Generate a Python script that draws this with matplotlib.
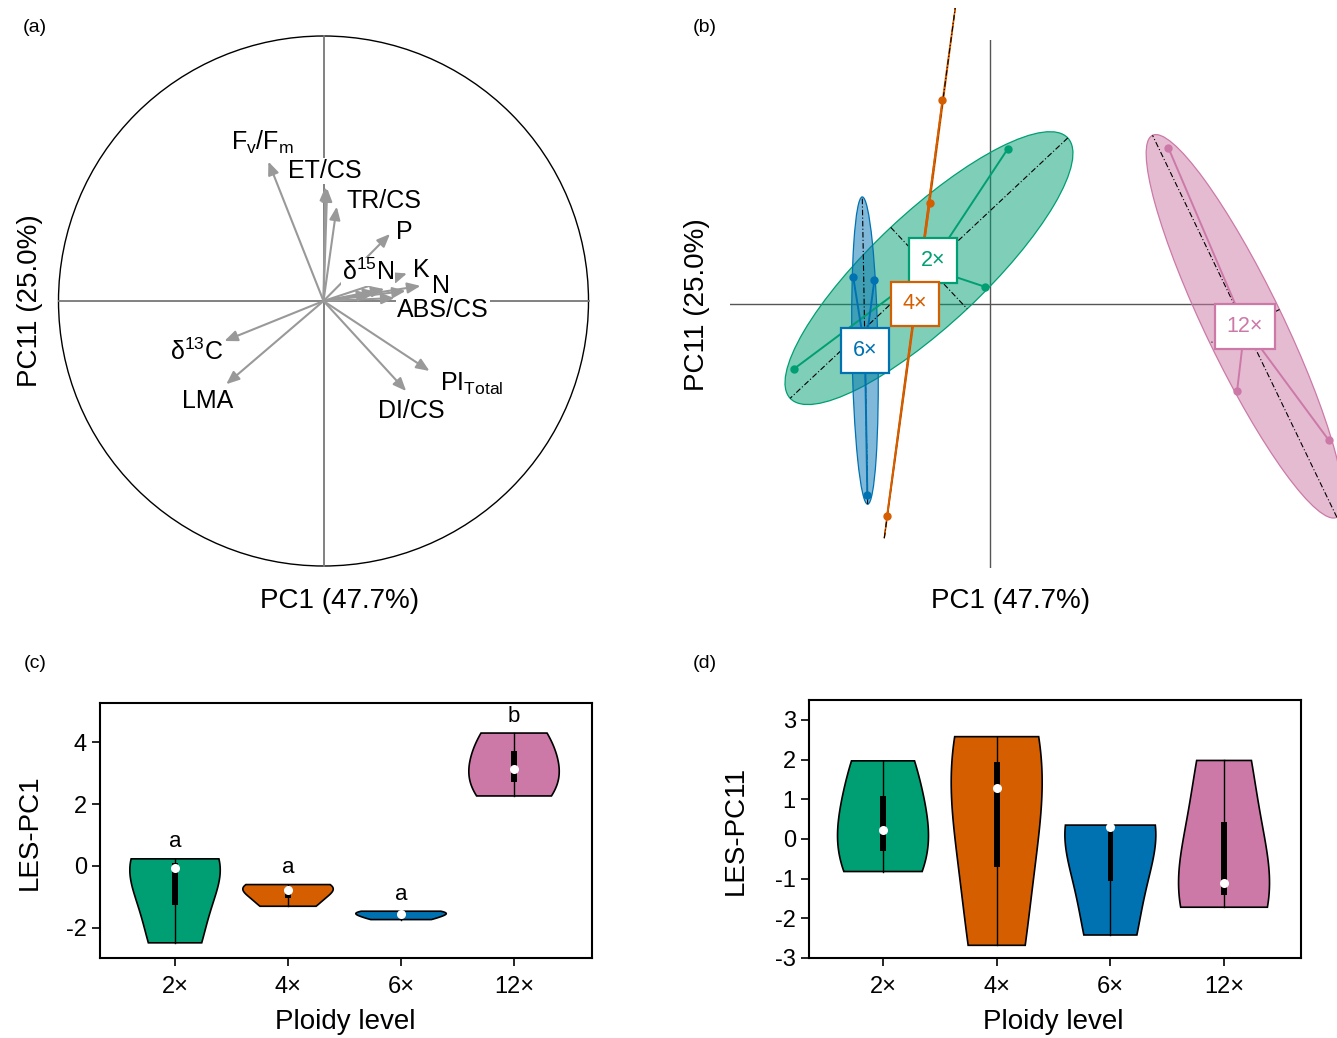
import numpy as np
import matplotlib
matplotlib.use("Agg")
import matplotlib.pyplot as plt
from matplotlib.patches import Ellipse, Circle, Polygon, Rectangle, FancyArrowPatch
from matplotlib.colors import to_rgba

plt.rcParams['font.family'] = ['Liberation Sans', 'DejaVu Sans']
plt.rcParams['axes.unicode_minus'] = False
plt.rcParams['mathtext.fontset'] = 'custom'
plt.rcParams['mathtext.rm'] = 'Liberation Sans'

# ---------------- data ----------------
groups = ["2×", "4×", "6×", "12×"]
group_colors = ["#009E73", "#D55E00", "#0072B2", "#CC79A7"]

# individual scores (PC1 / PC11) per ploidy level
pc1_scores = {
    "2×": [-2.48, 0.23, -0.06],
    "4×": [-0.60, -0.76, -1.30],
    "6×": [-1.73, -1.46, -1.55],
    "12×": [2.26, 3.13, 4.29],
}
pc11_scores = {
    "2×": [-0.82, 1.97, 0.22],
    "4×": [2.58, 1.28, -2.68],
    "6×": [0.35, 0.31, -2.42],
    "12×": [1.98, -1.10, -1.72],
}
sig_letters = ["a", "a", "a", "b"]

# variable loadings (correlation circle)
var_names = [r"$\mathregular{F_v/F_m}$", "ET/CS", "", "TR/CS", "P",
             r"$\mathregular{δ^{15}N}$", "K", "N", "ABS/CS", "", "", "",
             r"$\mathregular{δ^{13}C}$", "LMA", r"$\mathregular{PI_{Total}}$", "DI/CS"]
load_pc1 = [-0.208, 0.007, 0.014, 0.050, 0.251, 0.177, 0.315, 0.366, 0.268,
            0.31, 0.23, 0.20, -0.374, -0.367, 0.400, 0.312]
load_pc11 = [0.526, 0.430, 0.425, 0.356, 0.253, 0.026, 0.104, 0.057, 0.011,
             0.038, 0.045, 0.035, -0.151, -0.314, -0.264, -0.340]

pc1_title = "PC1 (47.7%)"
pc11_title = "PC11 (25.0%)"

# ---------------- layout helpers ----------------
W, H = 1337, 1038
fig = plt.figure(figsize=(W / 100, H / 100), dpi=100)


def fx(px):
    return px / W


def fy(py):
    return 1 - py / H


def axes_px(left, top, right, bottom):
    return fig.add_axes([fx(left), fy(bottom), (right - left) / W, (bottom - top) / H])


# label positions for panel (a) (data units of the circle)
label_pos_a = [(-0.232, 0.60), (0.006, 0.49), None, (0.228, 0.377), (0.304, 0.26),
               (0.168, 0.109), (0.368, 0.117), (0.443, 0.057), (0.451, -0.034),
               None, None, None,
               (-0.477, -0.192), (-0.436, -0.377), (0.56, -0.313), (0.33, -0.415)]

# ---------------- panel (a) ----------------
axa = axes_px(58.5, 36, 588.5, 566)
axa.set_xlim(-1, 1)
axa.set_ylim(-1, 1)
axa.axis('off')
axa.add_patch(Circle((0, 0), 1, fill=False, ec='black', lw=1.0, clip_on=False))
axa.plot([0, 0], [-1, 1], color='#777777', lw=1.3, zorder=1, clip_on=False)
axa.plot([-1, 1], [0, 0], color='#777777', lw=1.3, zorder=1, clip_on=False)
for i in range(len(var_names)):
    arr = FancyArrowPatch((0, 0), (load_pc1[i], load_pc11[i]),
                          arrowstyle='-|>,head_length=0.6,head_width=0.25',
                          mutation_scale=13, color='#999999', lw=1.5,
                          shrinkA=0, shrinkB=0, zorder=2)
    axa.add_patch(arr)
for i, name in enumerate(var_names):
    if name and label_pos_a[i] is not None:
        axa.text(label_pos_a[i][0], label_pos_a[i][1], name, fontsize=18,
                 ha='center', va='center', zorder=3,
                 bbox=dict(fc='white', ec='none', pad=0.5))

fig.text(fx(340), fy(601), pc1_title, fontsize=20, ha='center', va='center')
fig.text(fx(30), fy(301), pc11_title, fontsize=20, ha='center', va='center', rotation=90)

# ---------------- panel (b) ----------------
px_unit = 79.0
x0, y0 = 989.8, 304.2
axb = axes_px(730, 40, 1259, 568)
axb.set_xlim(-(x0 - 730) / px_unit, (1259 - x0) / px_unit)
axb.set_ylim(-(568 - y0) / px_unit, (y0 - 40) / px_unit)
axb.axis('off')
axb.axhline(0, color='#555555', lw=1.0, zorder=0.5)
axb.axvline(0, color='#555555', lw=1.0, zorder=0.5)

label_offset_b = {"2×": (0.05, 0.1), "4×": (-0.06, -0.39), "6×": (0, 0), "12×": (0, 0)}

for g, c in zip(groups, group_colors):
    x = np.array(pc1_scores[g])
    y = np.array(pc11_scores[g])
    X = np.c_[x, y]
    m = X.mean(0)
    C = np.cov(X.T, ddof=0)
    w, V = np.linalg.eigh(C)
    major = 1.5 * np.sqrt(max(w[1], 0))
    minor = 1.5 * np.sqrt(max(w[0], 0))
    ang = np.degrees(np.arctan2(V[1, 1], V[0, 1]))
    e = Ellipse(m, 2 * major, 2 * minor, angle=ang, fc=to_rgba(c, 0.5), ec=c,
                lw=0.9, zorder=1, clip_on=False)
    axb.add_patch(e)
    for k, r in ((1, major), (0, minor)):
        p1 = m - r * V[:, k]
        p2 = m + r * V[:, k]
        axb.plot([p1[0], p2[0]], [p1[1], p2[1]], color='black', lw=0.8,
                 ls=(0, (5, 2, 1, 2)), zorder=2, clip_on=False)
    for xi, yi in zip(x, y):
        axb.plot([m[0], xi], [m[1], yi], color=c, lw=1.4, zorder=3, clip_on=False)
    axb.plot(x, y, 'o', color=c, ms=5, zorder=4, clip_on=False)
    off = label_offset_b[g]
    axb.text(m[0] + off[0], m[1] + off[1], g, color=c, fontsize=15.5,
             ha='center', va='center', zorder=6,
             bbox=dict(boxstyle='square,pad=0.55', fc='white', ec=c, lw=1.6))

fig.text(fx(1011), fy(601), pc1_title, fontsize=20, ha='center', va='center')
fig.text(fx(697), fy(305), pc11_title, fontsize=20, ha='center', va='center', rotation=90)


# ---------------- violins ----------------
def fivenum(v):
    v = np.sort(np.asarray(v, float))
    n = len(v)
    n4 = np.floor((n + 3) / 2) / 2
    d = np.array([1, n4, (n + 1) / 2, n + 1 - n4, n]) - 1
    return 0.5 * (v[np.floor(d).astype(int)] + v[np.ceil(d).astype(int)])


def violin(ax, pos, vals, color):
    v = np.sort(np.asarray(vals, float))
    n = len(v)
    h = np.std(v, ddof=1) * (4 / (3 * n)) ** 0.2
    grid = np.linspace(v.min(), v.max(), 120)
    dens = np.exp(-0.5 * ((grid[:, None] - v[None, :]) / h) ** 2).sum(1)
    half = 0.4 * dens / dens.max()
    poly = np.concatenate([np.c_[pos - half, grid], np.c_[pos + half[::-1], grid[::-1]]])
    ax.add_patch(Polygon(poly, closed=True, fc=color, ec='black', lw=1.2, zorder=2))
    ax.plot([pos, pos], [v.min(), v.max()], color='black', lw=1.0, zorder=3)
    f = fivenum(v)
    ax.add_patch(Rectangle((pos - 0.025, f[1]), 0.05, f[3] - f[1], fc='black', ec='none', zorder=4))
    ax.plot(pos, f[2], 'o', color='white', ms=6.5, mec='none', zorder=5)


def style_violin_axes(ax, yticks):
    for s in ax.spines.values():
        s.set_linewidth(1.5)
    ax.set_xticks(range(1, len(groups) + 1))
    ax.set_xticklabels(groups)
    ax.set_yticks(yticks)
    ax.set_yticklabels([str(t) for t in yticks])
    ax.tick_params(axis='both', labelsize=17, length=6, width=1.2, direction='out')
    ax.tick_params(axis='x', pad=7)


# panel (c)
axc = axes_px(100, 703, 592, 958)
axc.set_xlim(0.336, 4.69)
axc.set_ylim(-2.97, 5.26)
for i, (g, c) in enumerate(zip(groups, group_colors)):
    violin(axc, i + 1, pc1_scores[g], c)
    axc.text(i + 1, max(pc1_scores[g]) + 0.55, sig_letters[i], fontsize=16,
             ha='center', va='center')
style_violin_axes(axc, [-2, 0, 2, 4])
fig.text(fx(30), fy(832), "LES-PC1", fontsize=20, ha='center', va='center', rotation=90)
fig.text(fx(345), fy(1022), "Ploidy level", fontsize=20, ha='center', va='center')

# panel (d)
axd = axes_px(809, 700, 1301, 958)
axd.set_xlim(0.349, 4.677)
axd.set_ylim(-3.0, 3.504)
for i, (g, c) in enumerate(zip(groups, group_colors)):
    violin(axd, i + 1, pc11_scores[g], c)
style_violin_axes(axd, [-3, -2, -1, 0, 1, 2, 3])
fig.text(fx(736), fy(830), "LES-PC11", fontsize=20, ha='center', va='center', rotation=90)
fig.text(fx(1053), fy(1022), "Ploidy level", fontsize=20, ha='center', va='center')

# panel tags
for tag, (px, py) in zip(["(a)", "(b)", "(c)", "(d)"],
                         [(35, 28), (705, 28), (35, 664), (705, 664)]):
    fig.text(fx(px), fy(py), tag, fontsize=14, ha='center', va='center')

fig.savefig("out.png", dpi=100)
